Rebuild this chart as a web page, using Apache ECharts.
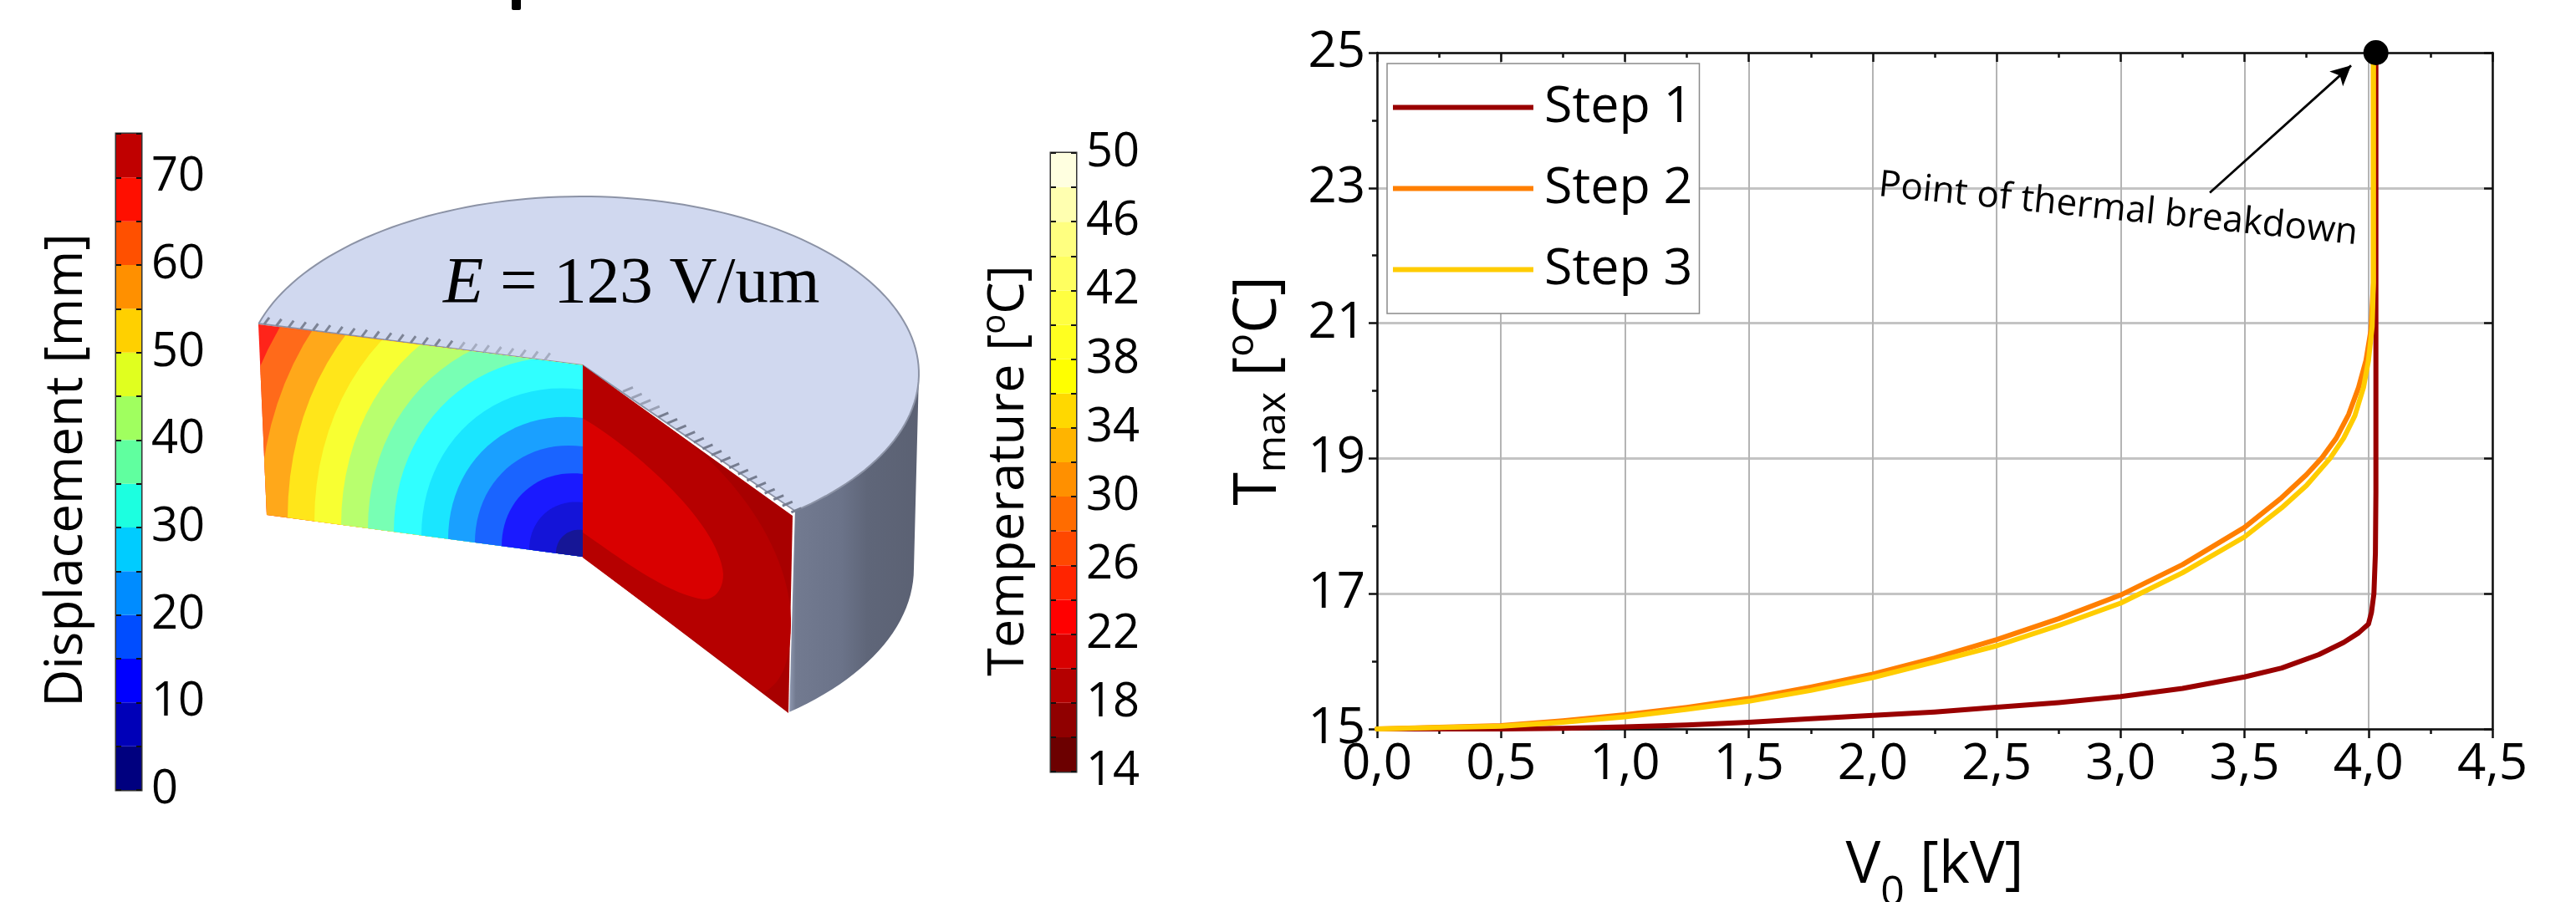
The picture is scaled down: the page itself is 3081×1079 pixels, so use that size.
<!DOCTYPE html>
<html><head><meta charset="utf-8">
<style>html,body{margin:0;padding:0;background:#fff}#c{width:3081px;height:1079px}</style>
<script src="https://cdn.jsdelivr.net/npm/echarts@6/dist/echarts.min.js"></script></head>
<body><div id="c"></div>
<script>
// ---- data ----
const step1V = [0,0.5,0.75,1.0,1.25,1.5,1.75,2.0,2.25,2.5,2.75,3.0,3.25,3.5,3.65,3.8,3.9,3.96,4.0,4.012,4.022,4.028,4.03,4.03];
const step1T = [15,15,15.01,15.03,15.06,15.1,15.15,15.2,15.25,15.32,15.39,15.48,15.6,15.77,15.9,16.1,16.28,16.42,16.55,16.72,17.0,17.6,18.5,25];
const step2V = [0,0.5,0.75,1.0,1.25,1.5,1.75,2.0,2.25,2.5,2.75,3.0,3.25,3.5,3.65,3.75,3.81,3.87,3.92,3.96,3.99,4.01,4.02,4.02];
const step2T = [15,15.05,15.12,15.21,15.32,15.45,15.62,15.81,16.05,16.32,16.63,16.98,17.43,17.98,18.42,18.76,19.0,19.3,19.65,20.05,20.45,20.9,21.6,25];
const step3V = [0,0.5,0.75,1.0,1.25,1.5,1.75,2.0,2.25,2.5,2.75,3.0,3.25,3.5,3.65,3.75,3.845,3.9,3.945,3.98,4.0,4.015,4.02,4.02];
const step3T = [15,15.04,15.1,15.18,15.29,15.41,15.57,15.76,15.99,16.23,16.53,16.86,17.31,17.84,18.27,18.6,19.0,19.3,19.63,20.05,20.45,20.95,21.6,25];
const seriesNames = ['Step 1','Step 2','Step 3'];
const seriesColors = ['#990000','#ff7f00','#ffcc00'];
const breakdownPoint = [4.03,25];
const arrowFrom = [3.36,22.93];
const arrowTo = [3.93,24.81];
const noteAt = [2.99,22.68];
const noteText = 'Point of thermal breakdown';
const yTicks = [15,17,19,21,23,25];
const dispEdges = [0,5,10,15,20,25,30,35,40,45,50,55,60,65,70,75];
const dispColors = ['#00007f','#0000b8','#0000ff','#004dff','#008cff','#00ccff','#1cffe0','#60ff9f','#a0ff5f','#e0ff1f','#ffd000','#ff9000','#ff5000','#ff0f00','#c00000'];
const tempEdges = [14,16,18,20,22,24,26,28,30,32,34,36,38,40,42,44,46,48,50];
const tempColors = ['#6c0000','#900000','#b40000','#d80000','#ff0000','#ff2400','#ff4800','#ff6c00','#ff9000','#ffb400','#ffd800','#ffff00','#ffff20','#ffff40','#ffff60','#ffff80','#ffffb0','#ffffe0'];
// contour bands of the cut face: [along-edge radius, height radius, colour]
const faceBands = [[420,448,'#ff6a1a'],[386,418,'#ffa81a'],[353,383,'#ffe61a'],[321,343,'#f8ff32'],[289,308,'#b8ff6e'],[257,268,'#78ffb4'],[226,237,'#30ffff'],[193,200,'#1ae6ff'],[161,166,'#1aa0ff'],[129,132,'#1a64ff'],[97,99,'#1a1aff'],[64,65,'#1414d8'],[32,32,'#161696']];

const FONT='"Open Sans"';
const zip=(a,b)=>a.map((v,i)=>[v,b[i]]);
const curves=[zip(step1V,step1T),zip(step2V,step2T),zip(step3V,step3T)];

// ---- illustration helpers ----
function clipPoly(poly,clip){
  let out=poly;
  for(let i=0;i<clip.length;i++){
    const A=clip[i],B=clip[(i+1)%clip.length];
    const side=p=>(B[0]-A[0])*(p[1]-A[1])-(B[1]-A[1])*(p[0]-A[0]);
    const inp=out;out=[];
    for(let j=0;j<inp.length;j++){
      const P=inp[j],Q=inp[(j+1)%inp.length],sp=side(P),sq=side(Q);
      if(sp>=0)out.push(P);
      if((sp>=0)!==(sq>=0)){const t=sp/(sp-sq);out.push([P[0]+t*(Q[0]-P[0]),P[1]+t*(Q[1]-P[1])]);}
    }
  }
  return out;
}
const faceQuad=[[309,388],[697,437],[697,666],[319,616]];
const C=[697,666],shear=0.132;
const g=[];
const poly=(pts,fill)=>g.push({type:'polygon',shape:{points:pts},style:{fill:fill},silent:true});
const line=(x1,y1,x2,y2,c,w)=>g.push({type:'line',shape:{x1,y1,x2,y2},style:{stroke:c,lineWidth:w},silent:true});

// side wall
g.push({type:'polygon',silent:true,shape:{points:(()=>{
  const p=[];
  for(let a=0;a<=1.0001;a+=0.04){const t=Math.acos(0.6325)*(1-a);p.push([696+403*Math.cos(t),447+212*Math.sin(t)]);}
  for(let a=0;a<=1.0001;a+=0.04){const t=Math.acos(0.625)*a;p.push([696+397*Math.cos(t),680+220*Math.sin(t)]);}
  return p;})()},
  style:{fill:{type:'linear',x:0,y:0,x2:1,y2:0,colorStops:[{offset:0,color:'#8f98b0'},{offset:0.05,color:'#727a90'},{offset:0.4,color:'#6b7389'},{offset:0.6,color:'#5f6679'},{offset:1,color:'#5b6173'}]}}});
// top face
(()=>{const p=[[697,437],[309,387]];
  const t0=Math.PI+Math.asin((447-387)/212)*1,t1=2*Math.PI+Math.acos(0.6325);
  for(let i=0;i<=120;i++){const t=t0+(t1-t0)*i/120;p.push([696+403*Math.cos(t),447+212*Math.sin(t)]);}
  g.push({type:'polygon',silent:true,shape:{points:p},style:{fill:'#d0d8ef',stroke:'#8c93a6',lineWidth:2}});
})();
// right cut face
poly([[697,437],[948,617],[943,853],[697,666]],'#a80000');
const zp=(x,y)=>[680+x/3,420+y/3];
const bez=(a,b,c,d,n)=>{const o=[];for(let i=0;i<=n;i++){const t=i/n,u=1-t;o.push([u*u*u*a[0]+3*u*u*t*b[0]+3*u*t*t*c[0]+t*t*t*d[0],u*u*u*a[1]+3*u*u*t*b[1]+3*u*t*t*c[1]+t*t*t*d[1]]);}return o;};
poly([zp(50,50),zp(430,325)].concat(bez(zp(430,325),zp(620,480),zp(790,720),zp(798,960),24),bez(zp(798,960),zp(800,1100),zp(770,1190),zp(700,1225),16),[zp(50,740)]),'#b60000');
poly(bez(zp(50,240),zp(250,360),zp(540,620),zp(555,800),30).concat(bez(zp(555,800),zp(555,860),zp(520,895),zp(480,890),12),bez(zp(480,890),zp(350,870),zp(180,740),zp(50,650),24)),'#d90000');
// left cut face contours
poly(faceQuad,'#ff241a');
faceBands.forEach(b=>{
  const e=[];
  for(let i=0;i<96;i++){const t=2*Math.PI*i/96,a=b[0]*Math.cos(t),h=b[1]*Math.sin(t);e.push([C[0]-a,C[1]-shear*a-h]);}
  poly(clipPoly(e,faceQuad),b[2]);
});
// serrated mesh marks along the cut edges
for(let i=0;i<24;i++){const x=316+i*14.6,y=389+(x-309)*0.1265-2;line(x,y,x+6,y-8,i<16?'#7d8496':'#a5acc0',3);}
for(let i=0;i<20;i++){const x=745+i*10.6,y=437+(x-697)*0.717-3;line(x,y,x+12,y-5,i<4?'#9aa1b5':'#767d90',3);}
// equation
g.push({type:'text',silent:true,x:530,y:340,style:{text:'{e|E}{n| = 123 V/um}',textVerticalAlign:'middle',rich:{e:{fontFamily:'"Liberation Serif"',fontStyle:'italic',fontSize:79,fill:'#000'},n:{fontFamily:'"Liberation Serif"',fontSize:79,fill:'#000'}}}});
// clipped fragment at the top edge
g.push({type:'rect',silent:true,shape:{x:612,y:-4,width:11,height:16,r:2},style:{fill:'#000'}});

const hiddenX=i=>({type:'category',gridIndex:i,data:['band'],show:false});
const barAxis=(grid,edges,step,labelStep,name,gap)=>{
  const base={type:'value',gridIndex:grid,min:edges[0],max:edges[edges.length-1],interval:step,z:10,splitLine:{show:false},
    axisLine:{show:false},axisTick:{show:true,inside:true,length:6,lineStyle:{color:'#111',width:2}}};
  return [
    Object.assign({},base,{position:'right',axisLabel:{show:true,margin:12,padding:[8,0,0,0],fontFamily:FONT,fontSize:56,color:'#000',
      formatter:v=>((v-edges[0])%labelStep===0?String(v):'')}}),
    Object.assign({},base,{position:'left',axisLabel:{show:false},name:name,nameLocation:'middle',nameGap:gap,
      nameTextStyle:{padding:[0,20,0,0],fontFamily:FONT,fontSize:62,color:'#000',rich:{t:{fontFamily:FONT,fontSize:61,color:'#000',lineHeight:72},s:{fontFamily:FONT,fontSize:40,color:'#000',verticalAlign:'top',lineHeight:72}}}})
  ];
};
const bands=(edges,colors,x,y,stack)=>colors.map((c,i)=>({type:'bar',xAxisIndex:x,yAxisIndex:y,stack:stack,barWidth:'100%',silent:true,
  itemStyle:{color:c},data:[i===0?edges[1]:edges[i+1]-edges[i]]}));

const mainY=(grid,pos,extra)=>Object.assign({type:'value',gridIndex:grid,min:15,max:25,interval:1,position:pos},extra);
const option={
  animation:false,backgroundColor:'#fff',
  graphic:{elements:g},
  grid:[
    {left:139,top:160,width:30,height:785,show:true,borderColor:'#333',borderWidth:3,backgroundColor:'transparent',outerBoundsMode:'none'},
    {left:1257,top:183,width:30,height:740,show:true,borderColor:'#333',borderWidth:3,backgroundColor:'transparent',outerBoundsMode:'none'},
    {left:1647,top:63,width:1334,height:809,outerBoundsMode:'none'}
  ],
  legend:{data:seriesNames,icon:'rect',orient:'vertical',left:1659,top:76,padding:[22,8,22,7],itemWidth:168,itemHeight:6,itemGap:36,
    borderColor:'#8a8a8a',borderWidth:1.5,backgroundColor:'#fff',z:20,selectedMode:false,textStyle:{fontFamily:FONT,fontSize:61,lineHeight:54,color:'#000',padding:[6,0,0,8]}},
  xAxis:[hiddenX(0),hiddenX(1),
    {type:'value',gridIndex:2,min:0,max:4.5,interval:0.5,position:'bottom',
      name:'{t|V}{s|0}{t| [kV]}',nameLocation:'middle',nameGap:124,
      nameTextStyle:{rich:{t:{fontFamily:FONT,fontSize:70,color:'#000',lineHeight:80},s:{fontFamily:FONT,fontSize:50,color:'#000',verticalAlign:'bottom',lineHeight:80,padding:[0,0,-18,0]}}},
      axisLine:{onZero:false,lineStyle:{color:'#111',width:2.5}},
      axisTick:{length:11,lineStyle:{color:'#111',width:2.5}},
      minorTick:{show:true,splitNumber:2,length:6,lineStyle:{color:'#111',width:2.5}},
      axisLabel:{margin:13,fontFamily:FONT,fontSize:60,color:'#000',formatter:v=>v.toFixed(1).replace('.',',')},
      splitLine:{show:true,lineStyle:{color:'#b4b4b4',width:2}}},
    {type:'value',gridIndex:2,min:0,max:4.5,interval:0.5,position:'top',axisLabel:{show:false},splitLine:{show:false},
      axisLine:{onZero:false,lineStyle:{color:'#111',width:2.5}},
      axisTick:{inside:true,length:11,lineStyle:{color:'#111',width:2.5}},
      minorTick:{show:true,splitNumber:2,length:6,lineStyle:{color:'#111',width:2.5}}}
  ],
  yAxis:[
    ...barAxis(0,dispEdges,5,10,'Displacement [mm]',28),
    ...barAxis(1,tempEdges,2,4,'{t|Temperature [}{s|o}{t|C]}',14),
    mainY(2,'left',{name:'{t|T}{s|max}{t| [}{u|o}{t|C]}',nameLocation:'middle',nameGap:100,
      nameTextStyle:{rich:{t:{fontFamily:FONT,fontSize:72,color:'#000',lineHeight:84},s:{fontFamily:FONT,fontSize:48,color:'#000',verticalAlign:'bottom',lineHeight:84},u:{fontFamily:FONT,fontSize:46,color:'#000',verticalAlign:'top',lineHeight:84}}},
      axisLine:{onZero:false,lineStyle:{color:'#111',width:2.5}},
      axisTick:{customValues:yTicks,length:10,lineStyle:{color:'#111',width:2.5}},
      axisLabel:{customValues:yTicks,margin:14,fontFamily:FONT,fontSize:60,color:'#000'},
      splitLine:{show:true,customValues:yTicks,lineStyle:{color:'#c4c4c4',width:3}}}),
    mainY(2,'right',{axisLabel:{show:false},splitLine:{show:false},
      axisLine:{onZero:false,lineStyle:{color:'#111',width:2.5}},
      axisTick:{customValues:yTicks,inside:true,length:10,lineStyle:{color:'#111',width:2.5}}}),
    mainY(2,'left',{axisLabel:{show:false},splitLine:{show:false},axisLine:{show:false},axisTick:{length:6,lineStyle:{color:'#111',width:2.5}}}),
    mainY(2,'right',{axisLabel:{show:false},splitLine:{show:false},axisLine:{show:false},axisTick:{inside:true,length:6,lineStyle:{color:'#111',width:2.5}}})
  ],
  series:[
    ...bands(dispEdges,dispColors,0,0,'disp'),
    ...bands(tempEdges,tempColors,1,2,'temp'),
    ...curves.map((c,i)=>({type:'line',name:seriesNames[i],xAxisIndex:2,yAxisIndex:4,data:c,showSymbol:false,symbol:'none',clip:false,z:3+i,silent:true,
      smooth:false,lineStyle:{color:seriesColors[i],width:6,cap:'round',join:'round'},itemStyle:{color:seriesColors[i]}})),
    {type:'scatter',name:'breakdown',xAxisIndex:2,yAxisIndex:4,data:[breakdownPoint],symbolSize:30,clip:false,z:8,silent:true,itemStyle:{color:'#000',opacity:1},
      markLine:{silent:true,symbol:['none','arrow'],symbolSize:[18,24],animation:false,label:{show:false},lineStyle:{color:'#000',width:2.8,type:'solid',opacity:1},
        data:[[{coord:arrowFrom},{coord:arrowTo}]]}},
    {type:'scatter',name:'note',xAxisIndex:2,yAxisIndex:4,data:[noteAt],symbolSize:0,clip:false,z:8,silent:true,itemStyle:{opacity:1},
      label:{show:true,position:'inside',rotate:-5.8,formatter:noteText,fontFamily:FONT,fontSize:44,color:'#000',opacity:1}}
  ]
};
const chart=echarts.init(document.getElementById('c'),null,{renderer:'canvas'});
chart.setOption(option);
</script></body></html>
